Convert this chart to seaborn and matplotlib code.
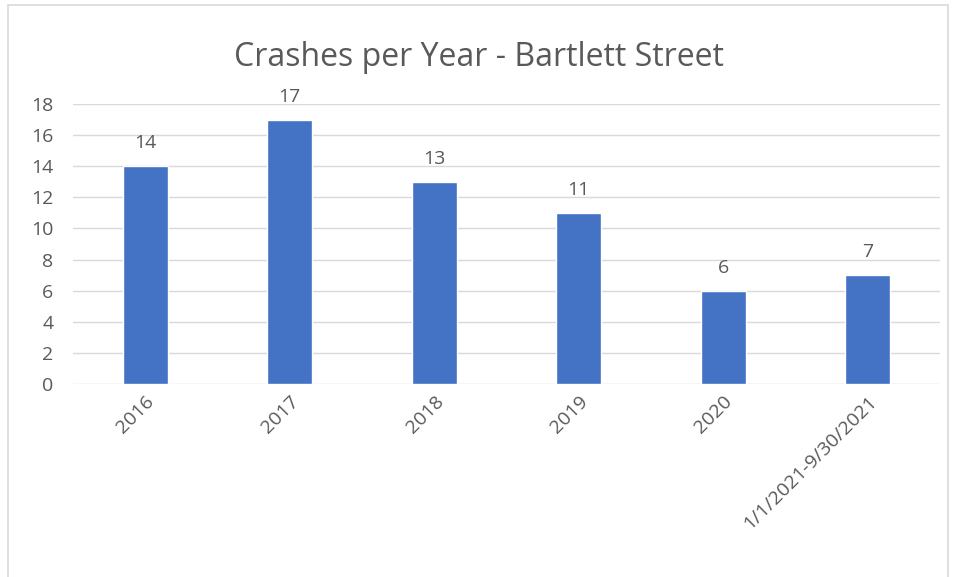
import pandas as pd
import matplotlib.pyplot as plt
import seaborn as sns
from matplotlib.patches import Rectangle

# Data
years = ["2016", "2017", "2018", "2019", "2020", "1/1/2021-9/30/2021"]
crashes = [14, 17, 13, 11, 6, 7]

sns.set_theme(style="white")
plt.rcParams['font.family'] = ['Open Sans', 'DejaVu Sans']

df = pd.DataFrame({"period": years, "crashes": crashes})

text_color = "#595959"

fig = plt.figure(figsize=(9.57, 5.77), dpi=100)
ax = fig.add_axes([73 / 957, 1 - 384 / 577, (940 - 73) / 957, (384 - 104) / 577])

sns.barplot(data=df, x="period", y="crashes", color="#4472C4", width=0.31,
            saturation=1, ax=ax)

# Value labels
for cont in ax.containers:
    ax.bar_label(cont, padding=10, fontsize=14, color=text_color)

ax.set_ylim(0, 18)
ax.set_yticks(range(0, 19, 2))
ax.yaxis.grid(True, color="#D9D9D9", linewidth=1)
ax.set_axisbelow(True)
for s in ax.spines.values():
    s.set_visible(False)

ax.set_xlabel("")
ax.set_ylabel("")
ax.tick_params(axis="y", labelsize=14, labelcolor=text_color, length=0, pad=14)
ax.tick_params(axis="x", labelsize=14, labelcolor=text_color, length=0, pad=6)
plt.setp(ax.get_xticklabels(), rotation=45, ha="right", rotation_mode="anchor")

fig.text(0.5, 1 - 58 / 577, "Crashes per Year - Bartlett Street", ha="center", va="center",
         fontsize=23, color=text_color)

# chart border (bottom edge runs off the image)
border = Rectangle((8 / 957, -0.05), (948 - 8) / 957, 1.05 - 5 / 577,
                   transform=fig.transFigure, fill=False,
                   edgecolor="#D9D9D9", linewidth=1.2)
fig.add_artist(border)

fig.savefig("out.png", dpi=100)
